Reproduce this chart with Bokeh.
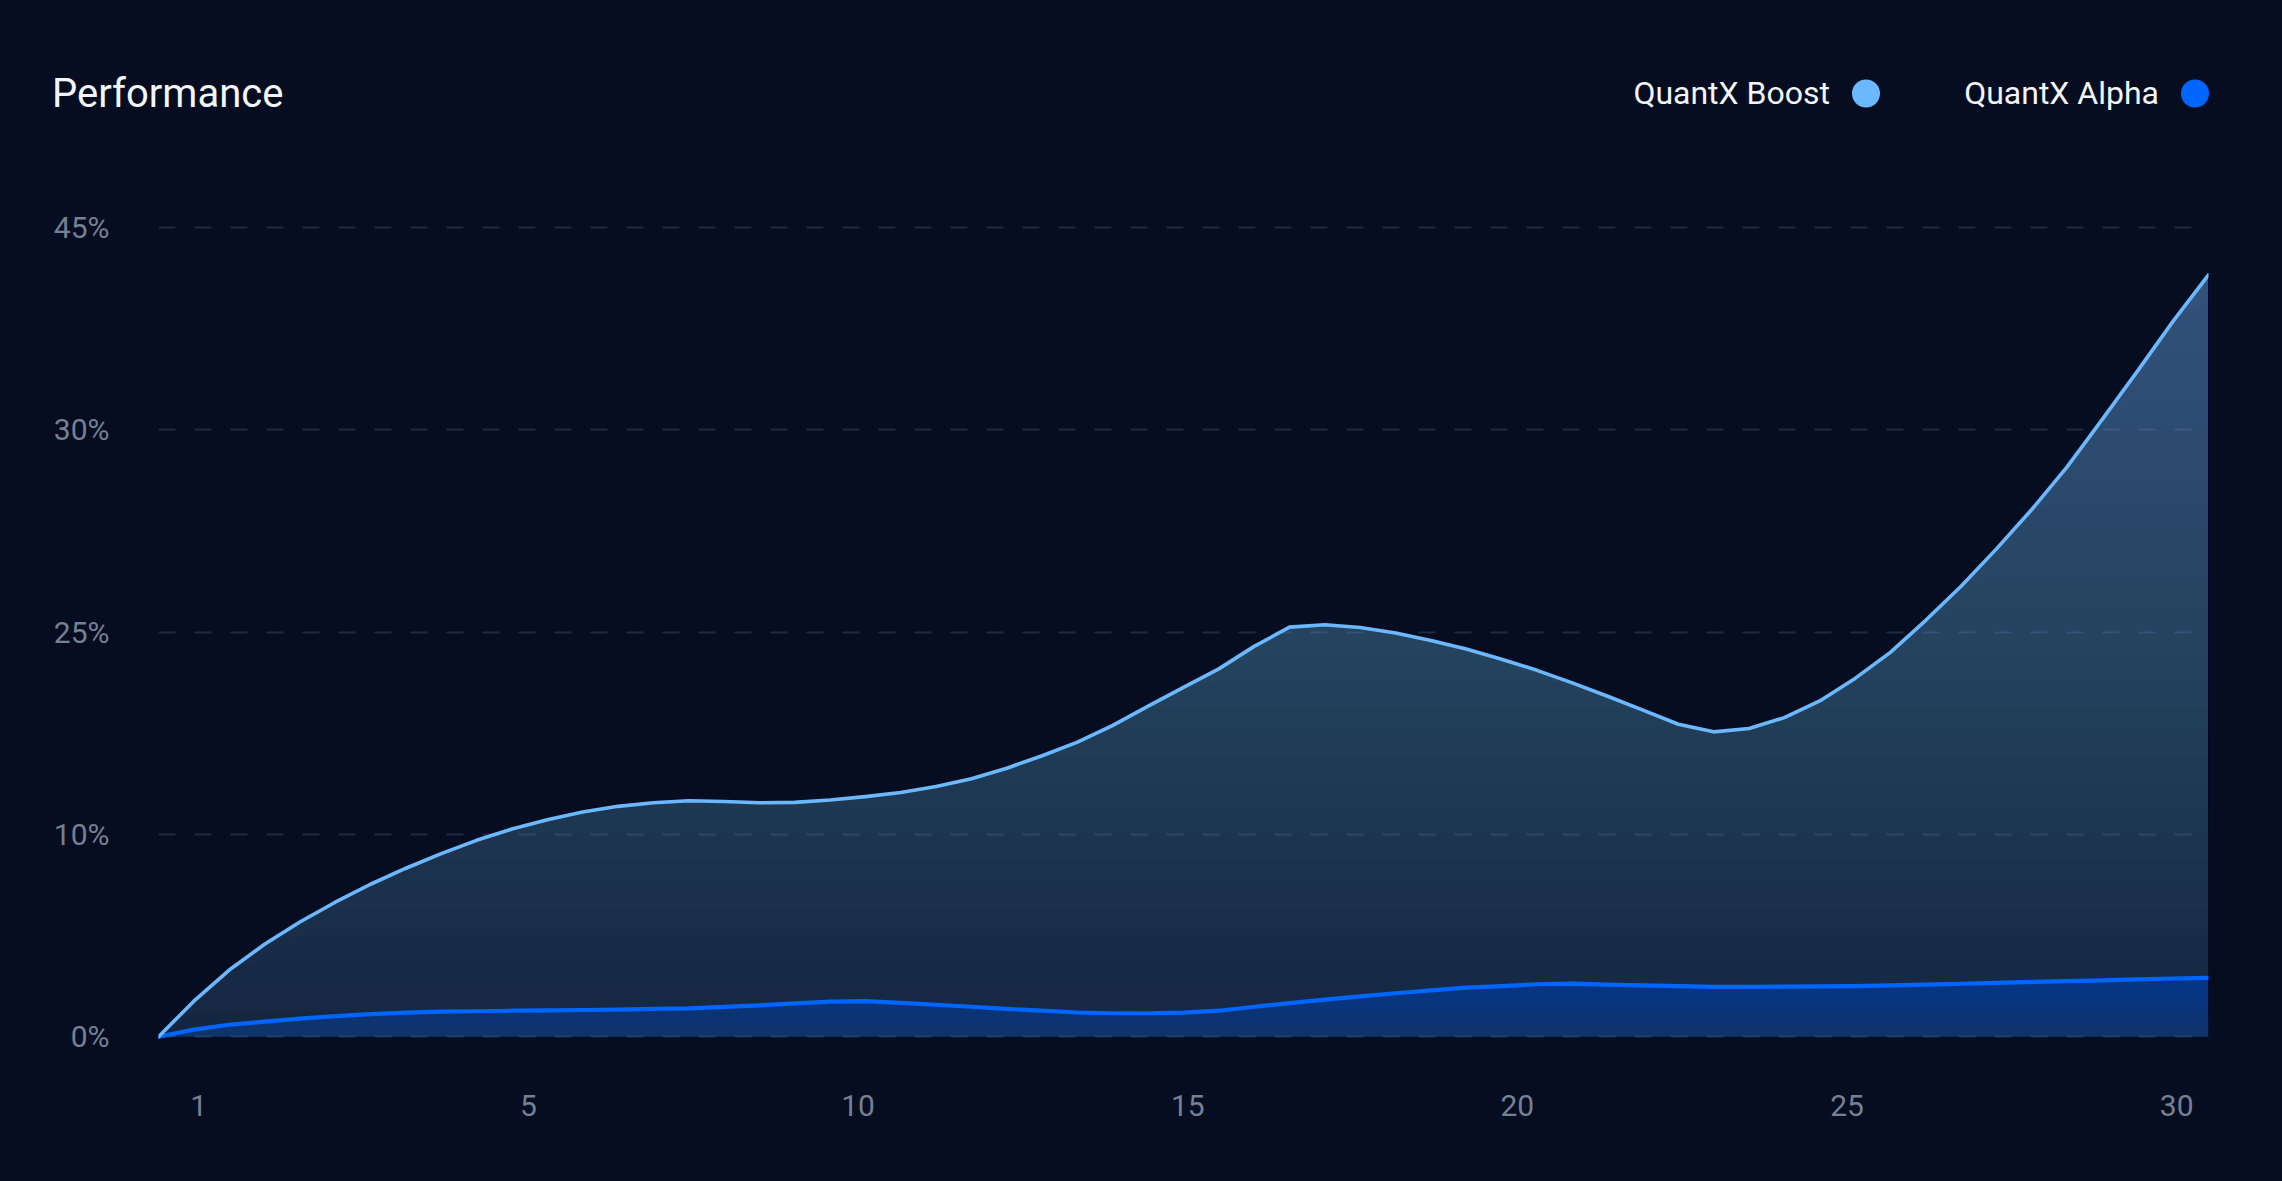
import numpy as np
from bokeh.plotting import figure
from bokeh.layouts import column
from bokeh.models import Range1d, FixedTicker
from bokeh.core.properties import value
from bokeh.embed import file_html
from bokeh.resources import INLINE

# ---------------- data (every half day) ----------------
days = [float(d) for d in np.arange(1.0, 30.01, 0.5)]
quantx_boost = [0.00, 1.98, 3.71, 5.14, 6.38, 7.48, 8.48, 9.37, 10.18, 10.92,
                11.55, 12.07, 12.50, 12.81, 13.01, 13.12, 13.08, 13.01, 13.03, 13.16,
                13.35, 13.58, 13.91, 14.34, 14.93, 15.62, 16.38, 17.31, 18.38, 19.42,
                20.45, 21.70, 22.77, 22.90, 22.75, 22.44, 22.03, 21.55, 20.99, 20.37,
                19.67, 18.93, 18.16, 17.37, 16.95, 17.14, 17.74, 18.67, 19.92, 21.37,
                23.15, 25.04, 27.12, 29.31, 31.68, 34.33, 37.03, 39.78, 42.35]
quantx_alpha = [0.00, 0.40, 0.67, 0.84, 1.01, 1.15, 1.26, 1.34, 1.40, 1.42,
                1.45, 1.47, 1.49, 1.51, 1.55, 1.58, 1.66, 1.75, 1.86, 1.96,
                1.98, 1.89, 1.78, 1.67, 1.55, 1.45, 1.35, 1.31, 1.31, 1.34,
                1.45, 1.67, 1.87, 2.07, 2.25, 2.42, 2.58, 2.73, 2.82, 2.92,
                2.96, 2.90, 2.86, 2.82, 2.78, 2.78, 2.79, 2.80, 2.82, 2.86,
                2.90, 2.95, 3.00, 3.05, 3.10, 3.14, 3.19, 3.24, 3.28]
series_names = ["QuantX Boost", "QuantX Alpha"]
x_tick_labels = ["1", "5", "10", "15", "20", "25", "30"]
y_tick_values = [0.0, 11.25, 22.5, 33.75, 45.0]
y_tick_labels = ["0%", "10%", "25%", "30%", "45%"]
title_text = "Performance"

# ---------------- style ----------------
BG = "#070d20"
BOOST = "#6cb8ff"
ALPHA = "#0066ff"
TICK = "#748094"
WHITE = "#f2f5fa"
GRID = "#1e2a3e"
FONT = "Roboto"
W = 2282
HEADER_H = 194
MAIN_H = 1181 - HEADER_H
LEFT, RIGHT, TOP, BOTTOM = 158, 74, 30, 142

# ---------------- header (title + legend) ----------------
header = figure(width=W, height=HEADER_H, x_range=Range1d(0, W), y_range=Range1d(HEADER_H, 0),
                x_axis_type=None, y_axis_type=None, output_backend="svg",
                toolbar_location=None, title=None,
                min_border_left=0, min_border_right=0, min_border_top=0, min_border_bottom=0)
header.grid.visible = False
header.outline_line_color = None
header.background_fill_color = BG
header.border_fill_color = BG
try:
    header.frame_align = False
except Exception:
    pass

header.text(x=[51.5], y=[93], text=[title_text], text_font=value(FONT),
            text_font_size="40px", text_color=WHITE, text_align="left",
            text_baseline="alphabetic")

dot_x = [1865.5, 2194.5]
dot_colors = [BOOST, ALPHA]
header.text(x=[d - 36 for d in dot_x], y=[92, 92], text=series_names, text_font=value(FONT),
            text_font_size="32px", text_color=WHITE, text_align="right",
            text_baseline="alphabetic")
header.scatter(x=dot_x, y=[93, 93], size=28, marker="circle",
               fill_color=dot_colors, line_color=None)

# ---------------- main chart ----------------
p = figure(width=W, height=MAIN_H, x_range=Range1d(1, 30), y_range=Range1d(-0.15, 45.15),
           output_backend="svg", toolbar_location=None, title=None,
           min_border_left=LEFT, min_border_right=RIGHT, min_border_top=TOP,
           min_border_bottom=BOTTOM)
p.background_fill_color = BG
p.border_fill_color = BG
p.outline_line_color = None
try:
    p.frame_align = False
except Exception:
    pass

b = np.array(quantx_boost)
a = np.array(quantx_alpha)

# vertical gradient-like fill for Boost (stacked translucent layers)
N = 30
p.varea(x=days, y1=0, y2=b, fill_color=BOOST, fill_alpha=0.15)
top_b = b.max()
for k in range(1, N):
    lo = top_b * k / N
    p.varea(x=days, y1=np.minimum(b, lo), y2=b, fill_color=BOOST, fill_alpha=0.0145)

# vertical gradient-like fill for Alpha
M = 15
p.varea(x=days, y1=0, y2=a, fill_color=ALPHA, fill_alpha=0.22)
top_a = a.max()
for k in range(1, M):
    lo = top_a * k / M
    p.varea(x=days, y1=np.minimum(a, lo), y2=a, fill_color=ALPHA, fill_alpha=0.021)

p.line(days, a, line_color=ALPHA, line_width=4.2, line_join="round", line_cap="round")
p.line(days, b, line_color=BOOST, line_width=3.6, line_join="round", line_cap="round")

# x axis: seven evenly spaced labels
xt = [float(v) for v in np.round(np.linspace(1.57, 29.55, len(x_tick_labels)), 3)]
p.xaxis.ticker = FixedTicker(ticks=xt)
p.xaxis.major_label_overrides = {t: l for t, l in zip(xt, x_tick_labels)}

# y axis
p.yaxis.ticker = FixedTicker(ticks=y_tick_values)
p.yaxis.major_label_overrides = {t: l for t, l in zip(y_tick_values, y_tick_labels)}

for ax in (p.xaxis, p.yaxis):
    ax.axis_line_color = None
    ax.major_tick_line_color = None
    ax.minor_tick_line_color = None
    ax.major_tick_out = 0
    ax.minor_tick_out = 0
    ax.major_tick_in = 0
    ax.major_label_text_font = FONT
    ax.major_label_text_font_size = "30px"
    ax.major_label_text_color = TICK
p.xaxis.major_label_standoff = 55
p.yaxis.major_label_standoff = 49

p.xgrid.visible = False
p.ygrid.ticker = FixedTicker(ticks=y_tick_values)
p.ygrid.grid_line_color = GRID
p.ygrid.grid_line_width = 2
p.ygrid.grid_line_dash = "17 19"

layout = column(header, p, spacing=0)
try:
    from bokeh.models import GlobalInlineStyleSheet
    layout.stylesheets = [GlobalInlineStyleSheet(css="html, body { background-color: #070d20; }")]
except Exception:
    pass

open("out.html", "w").write(file_html(layout, INLINE))
